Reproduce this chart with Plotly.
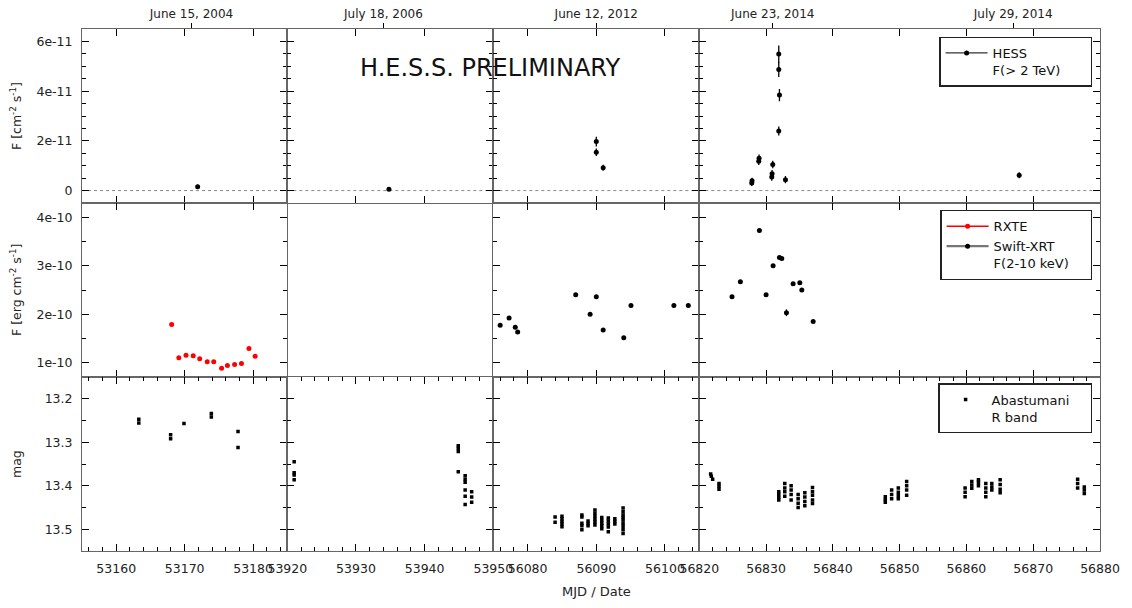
import plotly.graph_objects as go
from plotly.subplots import make_subplots

# ---------------- data ----------------
col_ranges = [[53155, 53185], [53920, 53950], [56075, 56105], [56820, 56880]]
x_tickvals = [[53160, 53170, 53180],
              [53920, 53930, 53940, 53950],
              [56080, 56090, 56100],
              [56820, 56830, 56840, 56850, 56860, 56870, 56880]]
date_mjd = [[53171], [53934], [56090], [56831, 56867]]
date_labels = [["June 15, 2004"], ["July 18, 2006"], ["June 12, 2012"],
               ["June 23, 2014", "July 29, 2014"]]

row_ranges = [[-0.5e-11, 6.5e-11], [0.7e-10, 4.3e-10], [13.55, 13.15]]
y_tickvals = [[0, 2e-11, 4e-11, 6e-11], [1e-10, 2e-10, 3e-10, 4e-10], [13.2, 13.3, 13.4, 13.5]]
y_ticktext = [["0", "2e-11", "4e-11", "6e-11"], ["1e-10", "2e-10", "3e-10", "4e-10"],
              ["13.2", "13.3", "13.4", "13.5"]]
y_minor = [0.5e-11, 0.5e-10, 0.05]
y_titles = ["F [cm<sup>-2</sup> s<sup>-1</sup>]", "F [erg cm<sup>-2</sup> s<sup>-1</sup>]", "mag"]

# HESS F(>2 TeV) per column
hess_mjd = [[53171.9], [53934.8], [56090.0, 56090.0, 56091.0],
            [56827.85, 56827.9, 56828.9, 56828.95, 56830.85, 56830.9, 56831.0,
             56831.9, 56832.0, 56831.9, 56831.9, 56832.9, 56867.9]]
hess_flux = [[0.15e-11], [0.05e-11], [1.97e-11, 1.54e-11, 0.92e-11],
             [0.30e-11, 0.40e-11, 1.18e-11, 1.30e-11, 0.55e-11, 0.68e-11, 1.05e-11,
              2.40e-11, 3.84e-11, 4.87e-11, 5.49e-11, 0.44e-11, 0.62e-11]]
hess_err = [[0.08e-11], [0.05e-11], [0.20e-11, 0.15e-11, 0.12e-11],
            [0.12e-11, 0.12e-11, 0.15e-11, 0.15e-11, 0.15e-11, 0.15e-11, 0.15e-11,
             0.18e-11, 0.25e-11, 0.30e-11, 0.35e-11, 0.15e-11, 0.12e-11]]

# RXTE (column 1)
rxte_mjd = [53168.1, 53169.15, 53170.2, 53171.25, 53172.2, 53173.3, 53174.25,
            53175.4, 53176.25, 53177.3, 53178.3, 53179.4, 53180.3]
rxte_flux = [1.785e-10, 1.10e-10, 1.15e-10, 1.14e-10, 1.08e-10, 1.015e-10, 1.015e-10,
             0.88e-10, 0.94e-10, 0.96e-10, 0.98e-10, 1.29e-10, 1.13e-10]

# Swift-XRT F(2-10 keV)
swift3_mjd = [56076.0, 56077.3, 56078.2, 56078.55, 56087.0, 56089.1, 56090.0,
              56091.0, 56094.0, 56095.05, 56101.3, 56103.4]
swift3_flux = [1.77e-10, 1.92e-10, 1.73e-10, 1.63e-10, 2.40e-10, 2.00e-10, 2.36e-10,
               1.67e-10, 1.51e-10, 2.18e-10, 2.18e-10, 2.18e-10]
swift4_mjd = [56824.9, 56826.15, 56829.0, 56830.0, 56831.05, 56832.0, 56832.35,
              56833.05, 56834.05, 56835.05, 56835.35, 56837.05]
swift4_flux = [2.36e-10, 2.67e-10, 3.73e-10, 2.40e-10, 3.00e-10, 3.175e-10, 3.15e-10,
               2.03e-10, 2.63e-10, 2.65e-10, 2.50e-10, 1.85e-10]
swift4_err = [0.02e-10, 0.02e-10, 0.03e-10, 0.02e-10, 0.02e-10, 0.03e-10, 0.03e-10,
              0.07e-10, 0.02e-10, 0.02e-10, 0.02e-10, 0.02e-10]

# Abastumani R band
ab1_mjd = [53163.3, 53163.3, 53167.95, 53167.95, 53169.9, 53173.9, 53173.9, 53177.8, 53177.8]
ab1_mag = [13.247, 13.256, 13.283, 13.292, 13.257, 13.234, 13.242, 13.275, 13.312]

ab2_mjd = [53921.0, 53921.0, 53921.0, 53921.0,
           53944.9, 53944.9, 53944.9, 53944.9,
           53945.9, 53945.9, 53945.9, 53945.9, 53945.9, 53945.9,
           53946.85, 53946.85, 53946.85]
ab2_mag = [13.345, 13.370, 13.375, 13.386,
           13.308, 13.314, 13.321, 13.368,
           13.377, 13.385, 13.392, 13.410, 13.424, 13.443,
           13.414, 13.426, 13.438]

ab3_mjd = [56084.0, 56084.0,
           56085.0, 56085.0, 56085.0, 56085.0, 56085.0,
           56087.9, 56087.9, 56087.9, 56087.9, 56087.9,
           56088.8, 56088.8, 56088.8,
           56089.8, 56089.8, 56089.8, 56089.8, 56089.8, 56089.8,
           56090.8, 56090.8, 56090.8, 56090.8, 56090.8,
           56091.75, 56091.75, 56091.75, 56091.75, 56091.75,
           56092.7, 56092.7, 56092.7,
           56093.9, 56093.9, 56093.9, 56093.9, 56093.9, 56093.9, 56093.9, 56093.9, 56093.9]
ab3_mag = [13.472, 13.484,
           13.470, 13.476, 13.482, 13.488, 13.494,
           13.467, 13.472, 13.486, 13.492, 13.501,
           13.481, 13.487, 13.492,
           13.456, 13.463, 13.470, 13.477, 13.484, 13.490,
           13.473, 13.480, 13.486, 13.492, 13.499,
           13.474, 13.481, 13.488, 13.495, 13.506,
           13.476, 13.482, 13.488,
           13.451, 13.460, 13.467, 13.473, 13.479, 13.486, 13.493, 13.501, 13.510]

ab4_mjd = [56821.7, 56821.8, 56822.0,
           56822.95, 56822.95, 56822.95,
           56831.9, 56831.9, 56831.9, 56831.9,
           56832.8, 56832.8, 56832.8, 56832.8,
           56833.75, 56833.75, 56833.75, 56833.75,
           56834.8, 56834.8, 56834.8, 56834.8,
           56835.8, 56835.8, 56835.8, 56835.8,
           56836.95, 56836.95, 56836.95, 56836.95, 56836.95,
           56847.85, 56847.85, 56847.85,
           56848.8, 56848.8, 56848.8,
           56849.8, 56849.8, 56849.8, 56849.8,
           56851.05, 56851.05, 56851.05, 56851.05,
           56859.8, 56859.8, 56859.8,
           56860.8, 56860.8, 56860.8,
           56861.8, 56861.8, 56861.8,
           56862.9, 56862.9, 56862.9, 56862.9,
           56863.8, 56863.8, 56863.8,
           56865.05, 56865.05, 56865.05, 56865.05,
           56876.65, 56876.65, 56876.65,
           56877.65, 56877.65, 56877.65]
ab4_mag = [13.373, 13.378, 13.385,
           13.395, 13.401, 13.408,
           13.414, 13.420, 13.427, 13.433,
           13.395, 13.405, 13.414, 13.424,
           13.400, 13.410, 13.420, 13.433,
           13.420, 13.430, 13.440, 13.450,
           13.416, 13.426, 13.436, 13.446,
           13.404, 13.414, 13.422, 13.433, 13.441,
           13.425, 13.432, 13.438,
           13.410, 13.420, 13.430,
           13.405, 13.415, 13.423, 13.430,
           13.390, 13.400, 13.410, 13.422,
           13.405, 13.415, 13.425,
           13.390, 13.398, 13.406,
           13.386, 13.392, 13.400,
           13.395, 13.405, 13.415, 13.425,
           13.395, 13.403, 13.410,
           13.386, 13.397, 13.408, 13.416,
           13.385, 13.395, 13.405,
           13.403, 13.410, 13.418]

# ---------------- figure ----------------
FONT = "DejaVu Sans"
OFF = 8  # page body margin offset
W, H = 1132 - OFF, 608 - OFF
ML, MR, MT, MB = 82 - OFF, 32, 29 - OFF, 57
PW, PH = W - ML - MR, H - MT - MB
PX0, PY1 = 82, 551  # plot-area left / bottom in page pixels


def px(xp):
    return (xp - PX0) / PW


def py(yp):
    return (PY1 - yp) / PH


fig = make_subplots(rows=3, cols=4, column_widths=[205.3, 206, 206, 400.7],
                    horizontal_spacing=0, vertical_spacing=0)

# HESS
for c in range(4):
    fig.add_trace(go.Scatter(
        x=hess_mjd[c], y=hess_flux[c], mode="markers",
        marker=dict(color="black", size=5),
        error_y=dict(type="data", array=hess_err[c], thickness=1.3, width=0, color="black"),
        showlegend=False, hoverinfo="x+y"), row=1, col=c + 1)

# RXTE
fig.add_trace(go.Scatter(x=rxte_mjd, y=rxte_flux, mode="markers",
                         marker=dict(color="#ff0000", size=5), showlegend=False), row=2, col=1)
# Swift
fig.add_trace(go.Scatter(x=swift3_mjd, y=swift3_flux, mode="markers",
                         marker=dict(color="black", size=5), showlegend=False), row=2, col=3)
fig.add_trace(go.Scatter(x=swift4_mjd, y=swift4_flux, mode="markers",
                         marker=dict(color="black", size=5),
                         error_y=dict(type="data", array=swift4_err, thickness=1.2, width=0, color="black"),
                         showlegend=False), row=2, col=4)

# Abastumani
for c, (xm, ym) in enumerate([(ab1_mjd, ab1_mag), (ab2_mjd, ab2_mag),
                              (ab3_mjd, ab3_mag), (ab4_mjd, ab4_mag)]):
    fig.add_trace(go.Scatter(x=xm, y=ym, mode="markers",
                             marker=dict(color="black", size=3.5, symbol="square"),
                             showlegend=False), row=3, col=c + 1)

# legend-key traces
fig.add_trace(go.Scatter(x=[None], y=[None], mode="lines+markers",
                         name="HESS<br>F(> 2 TeV)" + "\u00a0" * 6,
                         line=dict(color="#333", width=1.3), marker=dict(color="black", size=5),
                         legend="legend"), row=1, col=4)
fig.add_trace(go.Scatter(x=[None], y=[None], mode="lines+markers", name="RXTE",
                         line=dict(color="#ff0000", width=1.3), marker=dict(color="#ff0000", size=5),
                         legend="legend2"), row=2, col=4)
fig.add_trace(go.Scatter(x=[None], y=[None], mode="lines+markers",
                         name="Swift-XRT<br>F(2-10 keV)" + "\u00a0" * 4,
                         line=dict(color="#777", width=2.2), marker=dict(color="black", size=5),
                         legend="legend2"), row=2, col=4)
fig.add_trace(go.Scatter(x=[None], y=[None], mode="markers",
                         name="Abastumani" + "\u00a0" * 4 + "<br>R band",
                         marker=dict(color="black", size=3.5, symbol="square"),
                         legend="legend3"), row=3, col=4)

# axes
tfont = dict(family=FONT, size=12.5, color="#222")
for r in range(3):
    for c in range(4):
        idx = r * 4 + c + 1
        xa = "xaxis" if idx == 1 else f"xaxis{idx}"
        ya = "yaxis" if idx == 1 else f"yaxis{idx}"
        xcfg = dict(range=col_ranges[c], tickmode="array", tickvals=x_tickvals[c],
                    ticktext=[str(v) for v in x_tickvals[c]],
                    ticks="inside", ticklen=7, tickwidth=1, tickcolor="black",
                    showline=True, linecolor="#666", linewidth=1, mirror="ticks",
                    showgrid=False, zeroline=False, showticklabels=(r == 2),
                    tickfont=tfont, ticklabelstandoff=6, automargin=False)
        if r == 2:
            xcfg["minor"] = dict(tickmode="linear", tick0=0, dtick=2, ticks="inside",
                                 ticklen=4, tickwidth=1, tickcolor="black", showgrid=False)
        ycfg = dict(range=row_ranges[r], tickmode="array", tickvals=y_tickvals[r],
                    ticktext=y_ticktext[r],
                    ticks="inside", ticklen=7, tickwidth=1, tickcolor="black",
                    showline=True, linecolor="#666", linewidth=1, mirror="ticks",
                    showgrid=False, zeroline=False, showticklabels=(c == 0),
                    tickfont=tfont, ticklabelstandoff=6, automargin=False,
                    minor=dict(tickmode="linear", tick0=0, dtick=y_minor[r], ticks="inside",
                               ticklen=4, tickwidth=1, tickcolor="black", showgrid=False))
        fig.layout[xa].update(xcfg)
        fig.layout[ya].update(ycfg)

# top date axes
for c in range(4):
    idx = 13 + c
    base = "x" if c == 0 else f"x{c + 1}"
    ybase = "y" if c == 0 else f"y{c + 1}"
    fig.layout[f"xaxis{idx}"] = dict(
        overlaying=base, anchor=ybase, side="top", range=col_ranges[c],
        tickmode="array", tickvals=date_mjd[c], ticktext=date_labels[c],
        ticks="outside", ticklen=5, tickwidth=1, tickcolor="black",
        showline=False, showgrid=False, zeroline=False, automargin=False,
        tickfont=dict(family=FONT, size=12, color="#222"))
    fig.add_trace(go.Scatter(x=[], y=[], xaxis=f"x{idx}", yaxis=ybase,
                             showlegend=False, hoverinfo="skip"))

# dotted zero line in top row
for c in range(4):
    xr = "x" if c == 0 else f"x{c + 1}"
    yr = "y" if c == 0 else f"y{c + 1}"
    fig.add_shape(type="line", xref=f"{xr} domain", yref=yr, x0=0, x1=1, y0=0, y1=0,
                  line=dict(color="#888", width=1, dash="dot"), layer="below")

# annotations
ann_font = dict(family=FONT, size=12.5, color="#222")
row_centers = [5 / 6, 0.5, 1 / 6]
for r in range(3):
    fig.add_annotation(text=y_titles[r], xref="paper", yref="paper",
                       x=px(16), y=row_centers[r], textangle=-90,
                       showarrow=False, font=ann_font, xanchor="center", yanchor="middle")
fig.add_annotation(text="MJD / Date", xref="paper", yref="paper",
                   x=px(596), y=py(591.5),
                   showarrow=False, font=dict(family=FONT, size=13, color="#222"),
                   xanchor="center", yanchor="middle")
fig.add_annotation(text="H.E.S.S. PRELIMINARY", xref="paper", yref="paper",
                   x=px(490), y=py(68),
                   showarrow=False, font=dict(family=FONT, size=24, color="#111"),
                   xanchor="center", yanchor="middle")

leg_common = dict(xanchor="right", yanchor="top", x=px(1092.3),
                  bgcolor="white", bordercolor="#222", borderwidth=1.3,
                  font=dict(family=FONT, size=13, color="#111"),
                  itemwidth=42, valign="top", tracegroupgap=0)
fig.update_layout(
    width=W, height=H,
    margin=dict(l=ML, r=MR, t=MT, b=MB, autoexpand=False),
    paper_bgcolor="white", plot_bgcolor="white",
    font=dict(family=FONT, size=12, color="#222"),
    legend=dict(**leg_common, y=py(36.7)),
    legend2=dict(**leg_common, y=py(210)),
    legend3=dict(**leg_common, y=py(383.3)),
)

fig.write_html("out.html")
